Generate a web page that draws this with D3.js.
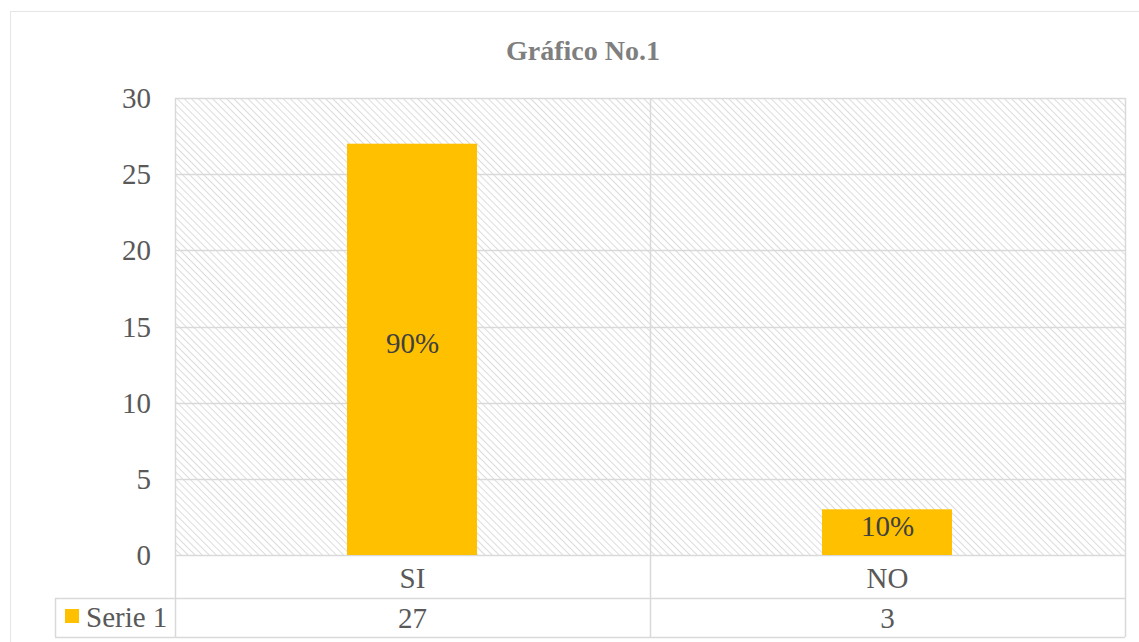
<!DOCTYPE html>
<html>
<head>
<meta charset="utf-8">
<script src="https://cdn.jsdelivr.net/npm/d3@7"></script>
<style>
  body { margin: 0; background: #fff; }
</style>
</head>
<body>
<div id="chart"></div>
<script>
// data
var categories = ["SI", "NO"];
var values = [27, 3];
var labels = ["90%", "10%"];
var seriesName = "Serie 1";
var yTicks = [0, 5, 10, 15, 20, 25, 30];

var width = 1139, height = 642;
var plot = {left: 175, right: 1125, top: 98, bottom: 555};
var rowH = [43, 39];
var fs = 29;
var font = "'Liberation Serif', 'DejaVu Serif', 'Times New Roman', serif";

var svg = d3.select("#chart").append("svg")
  .attr("width", width).attr("height", height)
  .style("font-family", font);

// hatch pattern (lines going down to the right)
var defs = svg.append("defs");
var pat = defs.append("pattern")
  .attr("id", "hatch")
  .attr("patternUnits", "userSpaceOnUse")
  .attr("width", 5).attr("height", 5)
  .attr("patternTransform", "rotate(-45)");
pat.append("rect").attr("width", 5).attr("height", 5).attr("fill", "#fff");
pat.append("line")
  .attr("x1", 0).attr("y1", 0).attr("x2", 0).attr("y2", 5)
  .attr("stroke", "#d4d4d4").attr("stroke-width", 1.6);

// outer frame
svg.append("rect")
  .attr("x", 10.5).attr("y", 11.5)
  .attr("width", width + 20).attr("height", height + 20)
  .attr("fill", "none").attr("stroke", "#e6e6e6");

// title
svg.append("text")
  .attr("x", 583).attr("y", 60)
  .attr("text-anchor", "middle")
  .attr("font-family", font)
  .attr("font-size", 28).attr("font-weight", "bold")
  .attr("fill", "#7f7f7f")
  .text("Gráfico No.1");

var x = d3.scaleBand().domain(categories)
  .range([plot.left, plot.right]).paddingInner(0).paddingOuter(0);
var y = d3.scaleLinear().domain([0, 30]).range([plot.bottom, plot.top]);

// plot background
svg.append("rect")
  .attr("x", plot.left).attr("y", plot.top)
  .attr("width", plot.right - plot.left).attr("height", plot.bottom - plot.top)
  .attr("fill", "url(#hatch)");

// gridlines
svg.append("g").selectAll("line").data(yTicks).join("line")
  .attr("x1", plot.left).attr("x2", plot.right)
  .attr("y1", function(d){ return Math.round(y(d)) + 0.5; })
  .attr("y2", function(d){ return Math.round(y(d)) + 0.5; })
  .attr("stroke", "#d9d9d9").attr("stroke-width", 1.5);

// vertical lines at category boundaries (through plot and table)
var tableBottom = plot.bottom + rowH[0] + rowH[1];
var bounds = categories.map(function(c){ return x(c); }).concat([plot.right]);
svg.append("g").selectAll("line").data(bounds).join("line")
  .attr("x1", function(d){ return Math.round(d) + 0.5; })
  .attr("x2", function(d){ return Math.round(d) + 0.5; })
  .attr("y1", plot.top).attr("y2", tableBottom)
  .attr("stroke", "#d9d9d9").attr("stroke-width", 1.5);

// y axis labels
svg.append("g").selectAll("text").data(yTicks).join("text")
  .attr("x", 151).attr("y", function(d){ return y(d) + 10; })
  .attr("text-anchor", "end")
  .attr("font-family", font)
  .attr("font-size", fs).attr("fill", "#595959")
  .text(function(d){ return d; });

// bars
var barW = 130;
svg.append("g").selectAll("rect").data(values).join("rect")
  .attr("x", function(d, i){ return x(categories[i]) + x.bandwidth() / 2 - barW / 2 - 0.5; })
  .attr("y", function(d){ return y(d); })
  .attr("width", barW)
  .attr("height", function(d){ return y(0) - y(d); })
  .attr("fill", "#ffc000");

// bar labels
svg.append("g").selectAll("text").data(values).join("text")
  .attr("x", function(d, i){ return x(categories[i]) + x.bandwidth() / 2; })
  .attr("y", function(d){ return (y(d) + y(0)) / 2 + 4; })
  .attr("text-anchor", "middle")
  .attr("font-family", font)
  .attr("font-size", fs).attr("fill", "#404040")
  .text(function(d, i){ return labels[i]; });

// data table
var r1 = plot.bottom + rowH[0];
var legendLeft = 55;
var tbl = svg.append("g").attr("stroke", "#d9d9d9").attr("stroke-width", 1.5);
tbl.append("line").attr("x1", legendLeft).attr("x2", plot.right)
  .attr("y1", r1 + 0.5).attr("y2", r1 + 0.5);
tbl.append("line").attr("x1", legendLeft).attr("x2", plot.right)
  .attr("y1", tableBottom + 0.5).attr("y2", tableBottom + 0.5);
tbl.append("line").attr("x1", legendLeft + 0.5).attr("x2", legendLeft + 0.5)
  .attr("y1", r1).attr("y2", tableBottom);

svg.append("g").selectAll("text").data(categories).join("text")
  .attr("x", function(d){ return x(d) + x.bandwidth() / 2; })
  .attr("y", plot.bottom + 33)
  .attr("text-anchor", "middle")
  .attr("font-family", font)
  .attr("font-size", fs).attr("fill", "#595959")
  .text(function(d){ return d; });

svg.append("g").selectAll("text").data(values).join("text")
  .attr("x", function(d, i){ return x(categories[i]) + x.bandwidth() / 2; })
  .attr("y", r1 + 30)
  .attr("text-anchor", "middle")
  .attr("font-family", font)
  .attr("font-size", fs).attr("fill", "#595959")
  .text(function(d){ return d; });

// legend key
svg.append("rect")
  .attr("x", 65).attr("y", r1 + 11)
  .attr("width", 14).attr("height", 14)
  .attr("fill", "#ffc000");
svg.append("text")
  .attr("x", 86).attr("y", r1 + 29)
  .attr("font-family", font)
  .attr("font-size", fs).attr("fill", "#595959")
  .text(seriesName);
</script>
</body>
</html>
